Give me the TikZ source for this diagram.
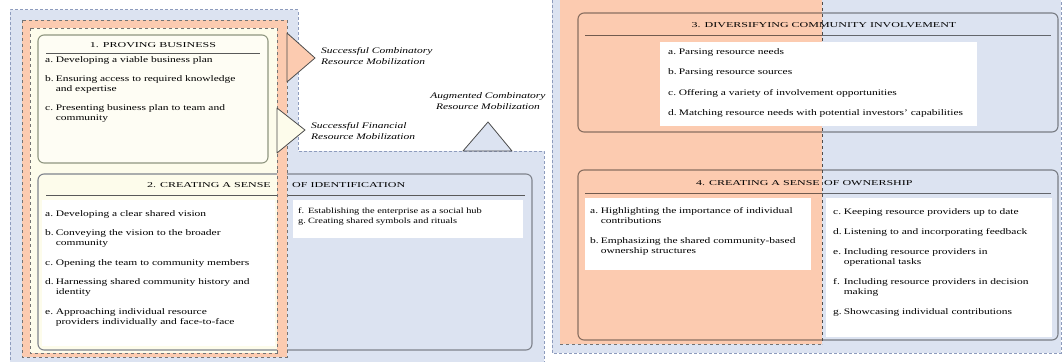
\documentclass[tikz,border=0pt]{standalone}
\usepackage{fontspec}
\setmainfont{Liberation Serif}[FakeStretch=1.35]
\newfontfamily\hdrfont{Liberation Serif}[FakeStretch=1.6]
\newfontfamily\narrowfont{Liberation Serif}[FakeStretch=1.3]
\usepackage{xcolor}

\begin{document}
\begin{tikzpicture}[x=1pt,y=-1pt,
  bluebound/.style={draw=blueedge,line width=1pt,densely dashed},
  orgbound/.style={draw=black!55,line width=0.7pt,dashed},
  stagebox/.style={rounded corners=6pt,line width=1.1pt},
  hdr/.style={font=\hdrfont\fontsize{7.5}{9}\selectfont,inner sep=0pt},
  items/.style={font=\fontsize{8.5}{10}\selectfont,inner sep=0pt,anchor=base west},
  txtarea/.style={fill=white,draw=none},
  tri/.style={draw=black!70,line width=0.8pt,line join=round},
  mobil/.style={font=\fontsize{8.5}{11}\selectfont\itshape,inner sep=0pt}]
\definecolor{bluefill}{HTML}{DCE3F1}
\definecolor{blueedge}{HTML}{8E9CBD}
\definecolor{orgfill}{HTML}{FCCBB0}
\definecolor{creamfill}{HTML}{FDFCEB}
\definecolor{boxonefill}{HTML}{FEFDF4}
\definecolor{olivegray}{HTML}{8F9680}
\definecolor{steelgray}{HTML}{7F838C}
\clip (0,0) rectangle (1064,361);

% left panel: nested regions
\fill[bluefill] (10,10) -- (298,10) -- (298,151) -- (544,151) -- (544,370) -- (10,370) -- cycle;
\draw[bluebound] (10,370) -- (10,10) -- (298,10) -- (298,151) -- (544,151) -- (544,370);
\fill[orgfill] (22,20) rectangle (287,357);
\draw[orgbound] (22,20) rectangle (287,357);
\fill[creamfill] (30,28) rectangle (277,353);
\draw[orgbound] (30,28) rectangle (277,353);

% stage 1
\draw[stagebox,draw=olivegray,fill=boxonefill] (38,35) rectangle (268,163);
\node[hdr] (hdrone) at (153,45) {1. PROVING BUSINESS};
\draw[black!65,line width=0.8pt] (46,53) -- (260,53);
\node[items] (itemsone) at (45,63) {\begin{tabular}[t]{@{}l@{\hspace{2pt}}l@{}}
a. & Developing a viable business plan\\[8.5pt]
b. & Ensuring access to required knowledge\\
   & and expertise\\[9pt]
c. & Presenting business plan to team and\\
   & community
\end{tabular}};

% stage 2
\draw[stagebox,draw=steelgray] (38,174) rectangle (532,350);
\node[hdr,anchor=east] (hdrtwo) at (271,185) {2. CREATING A SENSE};
\node[hdr,anchor=west] (hdrtwob) at (292,185) {OF IDENTIFICATION};
\draw[black!65,line width=0.8pt] (46,195) -- (525,195);
\fill[orgfill] (277.4,170) rectangle (286.6,353);
\draw[orgbound] (277,170) -- (277,353) (287,170) -- (287,357);
\fill[txtarea] (42,200) rectangle (275,346);
\fill[txtarea] (293,200) rectangle (523,238);
\node[items] (itemstwoa) at (45,216) {\begin{tabular}[t]{@{}l@{\hspace{2pt}}l@{}}
a. & Developing a clear shared vision\\[9.5pt]
b. & Conveying the vision to the broader\\
   & community\\[9.5pt]
c. & Opening the team to community members\\[9.5pt]
d. & Harnessing shared community history and\\
   & identity\\[9.5pt]
e. & Approaching individual resource\\
   & providers individually and face-to-face
\end{tabular}};
\node[items,font=\narrowfont\fontsize{8}{10.5}\selectfont] (itemstwob) at (298,213) {\begin{tabular}[t]{@{}l@{\hspace{2pt}}l@{}}
f. & Establishing the enterprise as a social hub\\
g. & Creating shared symbols and rituals
\end{tabular}};

% mobilization markers
\draw[tri,fill=orgfill] (287,33) -- (315,58) -- (287,82) -- cycle;
\draw[tri,fill=creamfill] (277,108) -- (305,130) -- (277,153) -- cycle;
\draw[tri,fill=bluefill] (463,151) -- (488,122) -- (512,151) -- cycle;
\node[mobil,anchor=west,align=left] (mobcomb) at (321,56) {Successful Combinatory\\Resource Mobilization};
\node[mobil,anchor=west,align=left] (mobfin) at (311,131) {Successful Financial\\Resource Mobilization};
\node[mobil,align=center] (mobaug) at (488,101) {Augmented Combinatory\\Resource Mobilization};

% right panel
\fill[bluefill] (552,-10) rectangle (1061,353);
\draw[bluebound] (552,-10) -- (552,353) -- (1061,353) -- (1061,-10);
\fill[orgfill] (560,-10) rectangle (822,344);
\draw[orgbound] (560,344) -- (822,344);

% stage 3
\draw[stagebox,draw=black,draw opacity=0.45] (578,13) rectangle (1058,132);
\node[hdr] (hdrthree) at (824,25) {3. DIVERSIFYING COMMUNITY INVOLVEMENT};
\draw[black,opacity=0.55,line width=0.8pt] (585,35) -- (1051,35);

% stage 4
\draw[stagebox,draw=black,draw opacity=0.45] (578,170) rectangle (1058,340);
\node[hdr,anchor=east] (hdrfour) at (820,183) {4. CREATING A SENSE};
\node[hdr,anchor=west] (hdrfourb) at (824,183) {OF OWNERSHIP};
\draw[black,opacity=0.55,line width=0.8pt] (585,193) -- (1051,193);

\draw[orgbound,black!70] (822,-10) -- (822,344);
\fill[txtarea] (660,42) rectangle (977,126);
\fill[txtarea] (585,198) rectangle (811,270);
\fill[txtarea] (826,198) rectangle (1052,337);
\node[items] (itemsthree) at (668,55) {\begin{tabular}[t]{@{}l@{\hspace{2pt}}l@{}}
a. & Parsing resource needs\\[10pt]
b. & Parsing resource sources\\[10pt]
c. & Offering a variety of involvement opportunities\\[10pt]
d. & Matching resource needs with potential investors' capabilities
\end{tabular}};
\node[items] (itemsfoura) at (590,213) {\begin{tabular}[t]{@{}l@{\hspace{2pt}}l@{}}
a. & Highlighting the importance of individual\\
   & contributions\\[10pt]
b. & Emphasizing the shared community-based\\
   & ownership structures
\end{tabular}};
\node[items] (itemsfourb) at (833,214) {\begin{tabular}[t]{@{}l@{\hspace{2pt}}l@{}}
c. & Keeping resource providers up to date\\[10pt]
d. & Listening to and incorporating feedback\\[10pt]
e. & Including resource providers in\\
   & operational tasks\\[10pt]
f. & Including resource providers in decision\\
   & making\\[10pt]
g. & Showcasing individual contributions
\end{tabular}};
\end{tikzpicture}
\end{document}
